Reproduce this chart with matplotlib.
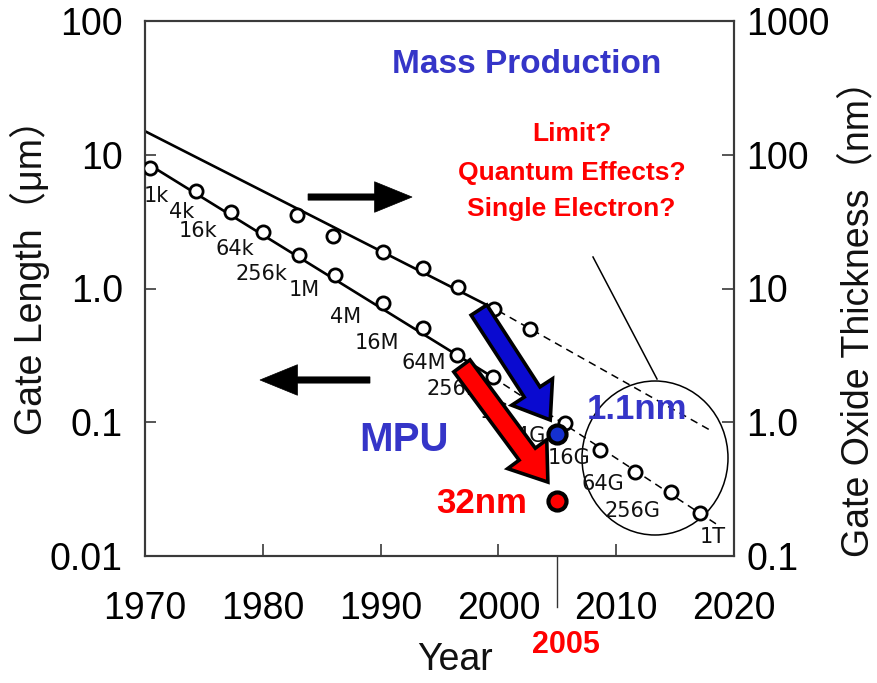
import matplotlib
matplotlib.use('Agg')
import matplotlib.pyplot as plt
from matplotlib.patches import FancyArrowPatch, Ellipse
from matplotlib.ticker import NullLocator

plt.rcParams['font.family'] = ['Liberation Sans', 'Noto Sans CJK JP', 'DejaVu Sans']

# ---------------- data ----------------
dram_labels = ['1k', '4k', '16k', '64k', '256k', '1M', '4M', '16M', '64M', '256M',
               '1G', '4G', '16G', '64G', '256G', '1T']
dram_years = [1970.4, 1974.3, 1977.3, 1980.0, 1983.1, 1986.1, 1990.2, 1993.6, 1996.5,
              1999.5, 2002.6, 2005.65, 2008.6, 2011.6, 2014.65, 2017.1]
gate_length_um = [7.96, 5.36, 3.73, 2.64, 1.78, 1.26, 0.78, 0.507, 0.318, 0.218,
                  0.147, 0.0987, 0.0621, 0.0425, 0.0301, 0.0210]

oxide_years = [1982.9, 1986.0, 1990.2, 1993.6, 1996.6, 1999.6, 2002.7]
oxide_nm = [35.5, 24.7, 18.8, 14.2, 10.3, 7.03, 4.98]

gate_trend_solid_years = [1970.4, 1999.5]
gate_trend_solid_um = [8.38, 0.218]
gate_trend_dash_years = [1999.5, 2018.6]
gate_trend_dash_um = [0.218, 0.0171]

oxide_trend_solid_years = [1970.0, 2000.0]
oxide_trend_solid_nm = [150.0, 6.8]
oxide_trend_dash_years = [2000.0, 2018.0]
oxide_trend_dash_nm = [6.8, 0.87]

mpu_year = 2005
mpu_oxide_nm = 0.82      # blue dot (1.1nm)
mpu_gate_um = 0.0258     # red dot (32nm)

x_ticks = [1970, 1980, 1990, 2000, 2010, 2020]
left_ticks = [0.01, 0.1, 1, 10, 100]
left_tick_labels = ['0.01', '0.1', '1.0', '10', '100']
right_ticks = [0.1, 1, 10, 100, 1000]
right_tick_labels = ['0.1', '1.0', '10', '100', '1000']

# label offsets (points) for DRAM generation labels
label_offsets = [(5, -20), (-10, -15), (-24, -14), (-20, -12), (-27, -14), (-22, -11),
                 (-27, -10), (-33, -11), (-24, -6), (-27, -9), (-25, -9), (-25, -9),
                 (-22, -6), (-23, -9), (-28, -14), (9, -17)]

# ---------------- figure ----------------
W, H = 877, 683
fig = plt.figure(figsize=(W / 100, H / 100), dpi=100)
fig.patch.set_facecolor('white')
ax = fig.add_axes([145 / W, 1 - 556 / H, 589 / W, 535 / H])
ax2 = ax.twinx()
ax.set_zorder(ax2.get_zorder() + 1)
ax.patch.set_visible(False)

for a in (ax, ax2):
    a.set_yscale('log')
    a.set_xlim(1970, 2020)
    for s in a.spines.values():
        s.set_linewidth(1.5)
        s.set_color('#3a3a3a')
ax.set_ylim(0.01, 100)
ax2.set_ylim(0.1, 1000)

ax.set_xticks(x_ticks)
ax.set_xticklabels([str(t) for t in x_ticks])
ax.set_yticks(left_ticks)
ax.set_yticklabels(left_tick_labels)
ax.yaxis.set_minor_locator(NullLocator())
ax2.set_yticks(right_ticks)
ax2.set_yticklabels(right_tick_labels)
ax2.yaxis.set_minor_locator(NullLocator())

ax.tick_params(axis='x', direction='in', length=9, width=1.2, labelsize=27, pad=25,
               color='#3a3a3a', top=False)
ax.tick_params(axis='y', direction='in', length=8, width=1.2, labelsize=27, pad=16,
               color='#3a3a3a', right=False)
ax2.tick_params(axis='y', direction='in', length=9, width=1.2, labelsize=27, pad=9,
                color='#3a3a3a')

# ---- oxide thickness (right axis) ----
ax2.plot(oxide_trend_solid_years, oxide_trend_solid_nm, color='k', lw=1.9, zorder=2)
ax2.plot(oxide_trend_dash_years, oxide_trend_dash_nm, color='k', lw=1.1,
         dashes=(5, 3.5), zorder=2)
ax2.plot(oxide_years, oxide_nm, 'o', ms=9.5, mfc='white', mec='k', mew=2.0, zorder=3)

# ---- gate length (left axis) ----
ax.plot(gate_trend_solid_years, gate_trend_solid_um, color='k', lw=1.9, zorder=2)
ax.plot(gate_trend_dash_years, gate_trend_dash_um, color='k', lw=1.1,
        dashes=(5, 3.5), zorder=2)
ax.plot(dram_years, gate_length_um, 'o', ms=9.5, mfc='white', mec='k', mew=2.0, zorder=3)
for lab, xv, yv, off in zip(dram_labels, dram_years, gate_length_um, label_offsets):
    ax.annotate(lab, (xv, yv), xytext=off, textcoords='offset points',
                ha='center', va='center', fontsize=15, family='DejaVu Sans',
                color='#111111', zorder=4)

# ---- small black direction arrows ----
def arrow(tail, tip, fc, hl, hw, tw, lw, ec, z):
    p = FancyArrowPatch(posA=tail, posB=tip,
                        arrowstyle=f'simple,head_length={hl},head_width={hw},tail_width={tw}',
                        mutation_scale=10, fc=fc, ec=ec, lw=lw, shrinkA=0, shrinkB=0,
                        transform=ax.transData, zorder=z, joinstyle='miter')
    ax.add_patch(p)

arrow((1983.84, 4.83), (1992.67, 4.83), 'k', 2.7, 2.2, 0.45, 0.5, 'k', 5)
arrow((1989.1, 0.207), (1979.76, 0.207), 'k', 2.7, 2.2, 0.45, 0.5, 'k', 5)

# ---- big colored arrows ----
arrow((1998.35, 0.690), (2004.4, 0.104), '#0a0ad0', 2.4, 3.5, 1.35, 2.6, 'k', 6)
arrow((1996.9, 0.264), (2004.2, 0.0357), '#ff0000', 2.5, 3.5, 1.45, 2.6, 'k', 6)

# ---- MPU dots ----
ax.plot([mpu_year], [mpu_oxide_nm], 'o', ms=13, mfc='#1530d0', mec='k', mew=3,
        transform=ax2.transData, zorder=7, clip_on=False)
ax.plot([mpu_year], [mpu_gate_um], 'o', ms=13, mfc='#ff0000', mec='k', mew=3, zorder=7)

# ---- circle annotation and pointer ----
ax.add_patch(Ellipse(((655 - 145) / 589, (556 - 458) / 535), 146 / 589, 154 / 535,
                     transform=ax.transAxes, fill=False, ec='k', lw=1.1, zorder=1))
ax.plot([(593 - 145) / 589, (657 - 145) / 589], [(556 - 257) / 535, (556 - 379) / 535],
        color='k', lw=1.1, transform=ax.transAxes, zorder=1)

# ---- texts ----
blue = '#3535c8'
ax.text(2002.4, 46.9, 'Mass Production', color=blue, fontsize=24, fontweight='bold',
        ha='center', va='center', zorder=8)
for txt, yv in zip(['Limit?', 'Quantum Effects?', 'Single Electron?'], [14.3, 7.31, 3.93]):
    ax.text(2006.2, yv, txt, color='#ff0000', fontsize=19, fontweight='bold',
            ha='center', va='center', zorder=8)
ax.text(1992.0, 0.0737, 'MPU', color=blue, fontsize=29, fontweight='bold',
        ha='center', va='center', zorder=8)
ax.text(2011.8, 0.1236, '1.1nm', color=blue, fontsize=25, fontweight='bold',
        ha='center', va='center', zorder=8)
ax.text(1998.6, 0.0249, '32nm', color='#ff0000', fontsize=25, fontweight='bold',
        ha='center', va='center', zorder=8)

xt = ax.get_xaxis_transform()
ax.plot([mpu_year, mpu_year], [0, -0.095], color='#333333', lw=1.0, transform=xt,
        clip_on=False)
ax.text(2005.7, -0.166, '2005', color='#ff0000', fontsize=22, fontweight='bold',
        ha='center', va='center', transform=xt)
ax.text(1996.3, -0.195, 'Year', color='#111111', fontsize=27, ha='center', va='center',
        transform=xt)

fig.text(30 / W, 1 - 268 / H, 'Gate Length（μm）', rotation=90, fontsize=27,
         ha='center', va='center', color='#111111')
fig.text(858 / W, 1 - 309 / H, 'Gate Oxide Thickness（nm）', rotation=90, fontsize=27,
         ha='center', va='center', color='#111111')

fig.savefig('out.png', dpi=100, facecolor='white')
